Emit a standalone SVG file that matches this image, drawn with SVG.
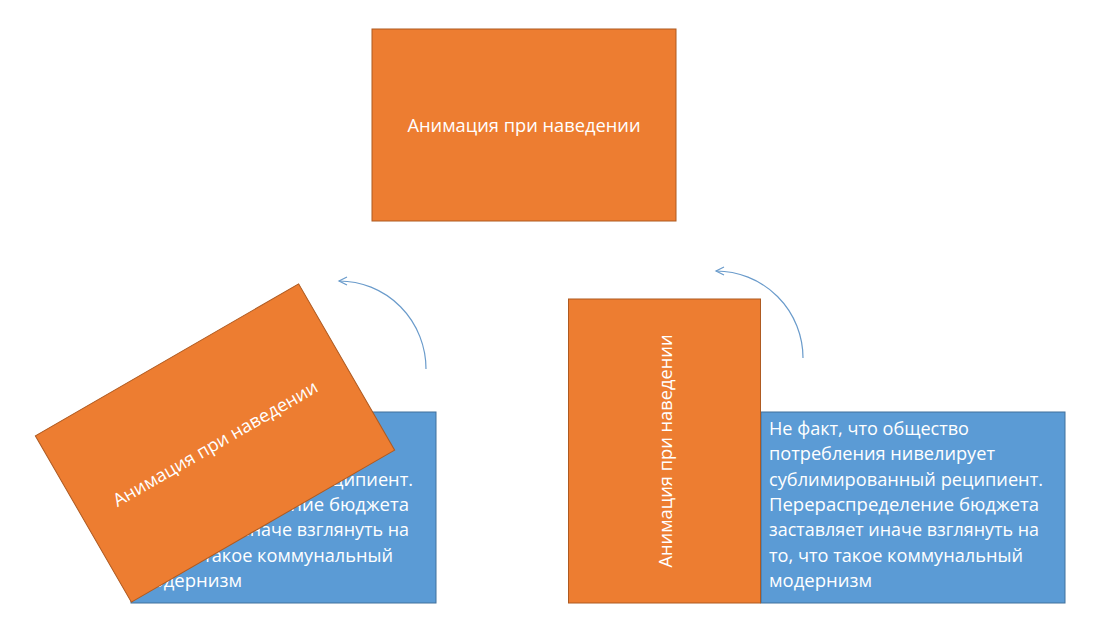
<svg xmlns="http://www.w3.org/2000/svg" width="1097" height="622" viewBox="0 0 1097 622">
  <style>
    .card { fill: #ED7D31; stroke: #AE5A21; stroke-width: 1; }
    .info { fill: #5B9BD5; stroke: #41719C; stroke-width: 1; }
    .ctext { font-family: "Open Sans", "Noto Sans", sans-serif; font-size: 18px; fill: #FFFFFF; text-anchor: middle; }
    .btext { font-family: "Open Sans", "Noto Sans", sans-serif; font-size: 18px; fill: #FFFFFF; }
    .conn { fill: none; stroke: #6A9BCB; stroke-width: 1.2; }
  </style>
  <defs>
    <marker id="open" markerUnits="userSpaceOnUse" markerWidth="12" markerHeight="12" refX="9" refY="5" orient="auto">
      <path d="M1,1 L9,5 L1,9" fill="none" stroke="#6A9BCB" stroke-width="1.2"/>
    </marker>
    <g id="infotext">
      <text class="btext" x="0" y="0" textLength="200" lengthAdjust="spacingAndGlyphs">Не факт, что общество</text>
      <text class="btext" x="0" y="25.3" textLength="226" lengthAdjust="spacingAndGlyphs">потребления нивелирует</text>
      <text class="btext" x="0" y="50.6" textLength="274" lengthAdjust="spacingAndGlyphs">сублимированный реципиент.</text>
      <text class="btext" x="0" y="75.9" textLength="270" lengthAdjust="spacingAndGlyphs">Перераспределение бюджета</text>
      <text class="btext" x="0" y="101.2" textLength="270" lengthAdjust="spacingAndGlyphs">заставляет иначе взглянуть на</text>
      <text class="btext" x="0" y="126.5" textLength="254" lengthAdjust="spacingAndGlyphs">то, что такое коммунальный</text>
      <text class="btext" x="0" y="151.8" textLength="103" lengthAdjust="spacingAndGlyphs">модернизм</text>
    </g>
  </defs>
  <rect width="1097" height="622" fill="#FFFFFF"/>

  <g id="connectors">
    <path class="conn" d="M426,369 A87,88 0 0 0 339,281" marker-end="url(#open)"/>
    <path class="conn" d="M803,358 A87,87 0 0 0 716,271" marker-end="url(#open)"/>
  </g>

  <g id="top-card">
    <rect class="card" x="372" y="29" width="304" height="192"/>
    <text class="ctext" x="524" y="132" textLength="233" lengthAdjust="spacingAndGlyphs">Анимация при наведении</text>
  </g>

  <g id="left-info">
    <rect class="info" x="131" y="412" width="305" height="191"/>
    <use href="#infotext" x="139" y="435"/>
  </g>

  <g id="left-card" transform="translate(215,443) rotate(-30)">
    <rect class="card" x="-152" y="-96" width="304" height="192"/>
    <text class="ctext" x="0" y="7" textLength="233" lengthAdjust="spacingAndGlyphs">Анимация при наведении</text>
  </g>

  <g id="right-info">
    <rect class="info" x="761" y="412" width="304" height="191"/>
    <use href="#infotext" x="769" y="435"/>
  </g>

  <g id="right-card" transform="translate(664.5,451) rotate(-90)">
    <rect class="card" x="-152" y="-96" width="304" height="192"/>
    <text class="ctext" x="0" y="7" textLength="233" lengthAdjust="spacingAndGlyphs">Анимация при наведении</text>
  </g>
</svg>
